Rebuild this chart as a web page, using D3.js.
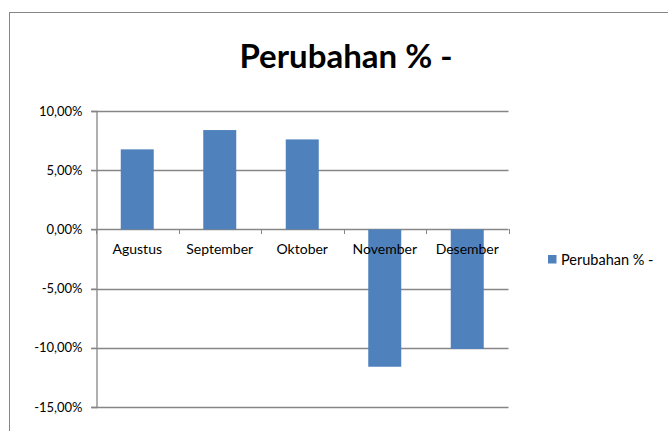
<!DOCTYPE html>
<html>
<head>
<meta charset="utf-8">
<script src="https://cdn.jsdelivr.net/npm/d3@7"></script>
<style>
  body { margin: 0; background: #fff; }
  svg { display: block; font-family: Lato, "Open Sans", sans-serif; }
</style>
</head>
<body>
<svg id="chart" width="668" height="431"></svg>
<script>
// data
const months = ["Agustus", "September", "Oktober", "November", "Desember"];
const changes = [6.76, 8.39, 7.6, -11.6, -10.1];
const yTicks = [-15, -10, -5, 0, 5, 10];
const seriesName = "Perubahan % -";

const svg = d3.select("#chart");
const grey = "#868686";

// outer chart frame (cut off on the right and bottom)
svg.append("rect")
    .attr("x", 9.5).attr("y", 12.5)
    .attr("width", 700).attr("height", 500)
    .attr("fill", "none").attr("stroke", grey);

svg.append("text")
    .attr("x", 346).attr("y", 68)
    .attr("text-anchor", "middle")
    .attr("font-size", 33).attr("font-weight", "bold")
    .text(seriesName);

const x = d3.scaleBand().domain(months).range([96, 508.5]).paddingInner(0.6).paddingOuter(0.3);
const xEdge = d3.scaleLinear().domain([0, months.length]).range([96, 508.5]);
const y = d3.scaleLinear().domain([-15, 10]).range([407, 111]);

// gridlines
svg.append("g")
    .selectAll("line")
    .data(yTicks)
    .enter()
    .append("line")
    .attr("x1", 91).attr("x2", 508.5)
    .attr("y1", d => Math.round(y(d)) + 0.5)
    .attr("y2", d => Math.round(y(d)) + 0.5)
    .attr("stroke", grey).attr("stroke-width", 1.3);

// bars
svg.append("g")
    .selectAll("rect")
    .data(changes)
    .enter()
    .append("rect")
    .attr("x", (d, i) => x(months[i]))
    .attr("width", x.bandwidth())
    .attr("y", d => y(Math.max(0, d)))
    .attr("height", d => Math.abs(y(d) - y(0)))
    .attr("fill", "#4F81BD");

// y axis
const yAxis = d3.axisLeft(y)
    .tickValues(yTicks)
    .tickSize(5)
    .tickPadding(9)
    .tickFormat(d => d3.format(".2f")(d).replace(".", ",").replace("\u2212", "-") + "%");
svg.append("g")
    .attr("transform", "translate(96.5,0)")
    .call(yAxis)
    .call(g => g.select(".domain").attr("stroke", grey).attr("stroke-width", 1.3))
    .call(g => g.selectAll(".tick line").attr("stroke", grey))
    .call(g => g.selectAll("text").attr("font-size", 13).attr("fill", "#000")
        .attr("font-family", "Lato, sans-serif"));

// category ticks on the zero line
svg.append("g")
    .selectAll("line")
    .data(d3.range(months.length + 1))
    .enter()
    .append("line")
    .attr("x1", d => Math.round(xEdge(d)) + 0.5)
    .attr("x2", d => Math.round(xEdge(d)) + 0.5)
    .attr("y1", Math.round(y(0)))
    .attr("y2", Math.round(y(0)) + 5)
    .attr("stroke", grey);

// category labels
svg.append("g")
    .selectAll("text")
    .data(months)
    .enter()
    .append("text")
    .attr("x", d => x(d) + x.bandwidth() / 2)
    .attr("y", 254)
    .attr("text-anchor", "middle")
    .attr("font-size", 14)
    .text(d => d);

// legend
svg.append("rect")
    .attr("x", 548).attr("y", 255)
    .attr("width", 8.5).attr("height", 8.5)
    .attr("fill", "#4F81BD");
svg.append("text")
    .attr("x", 561).attr("y", 264.5)
    .attr("font-size", 14.5)
    .text(seriesName);
</script>
</body>
</html>
